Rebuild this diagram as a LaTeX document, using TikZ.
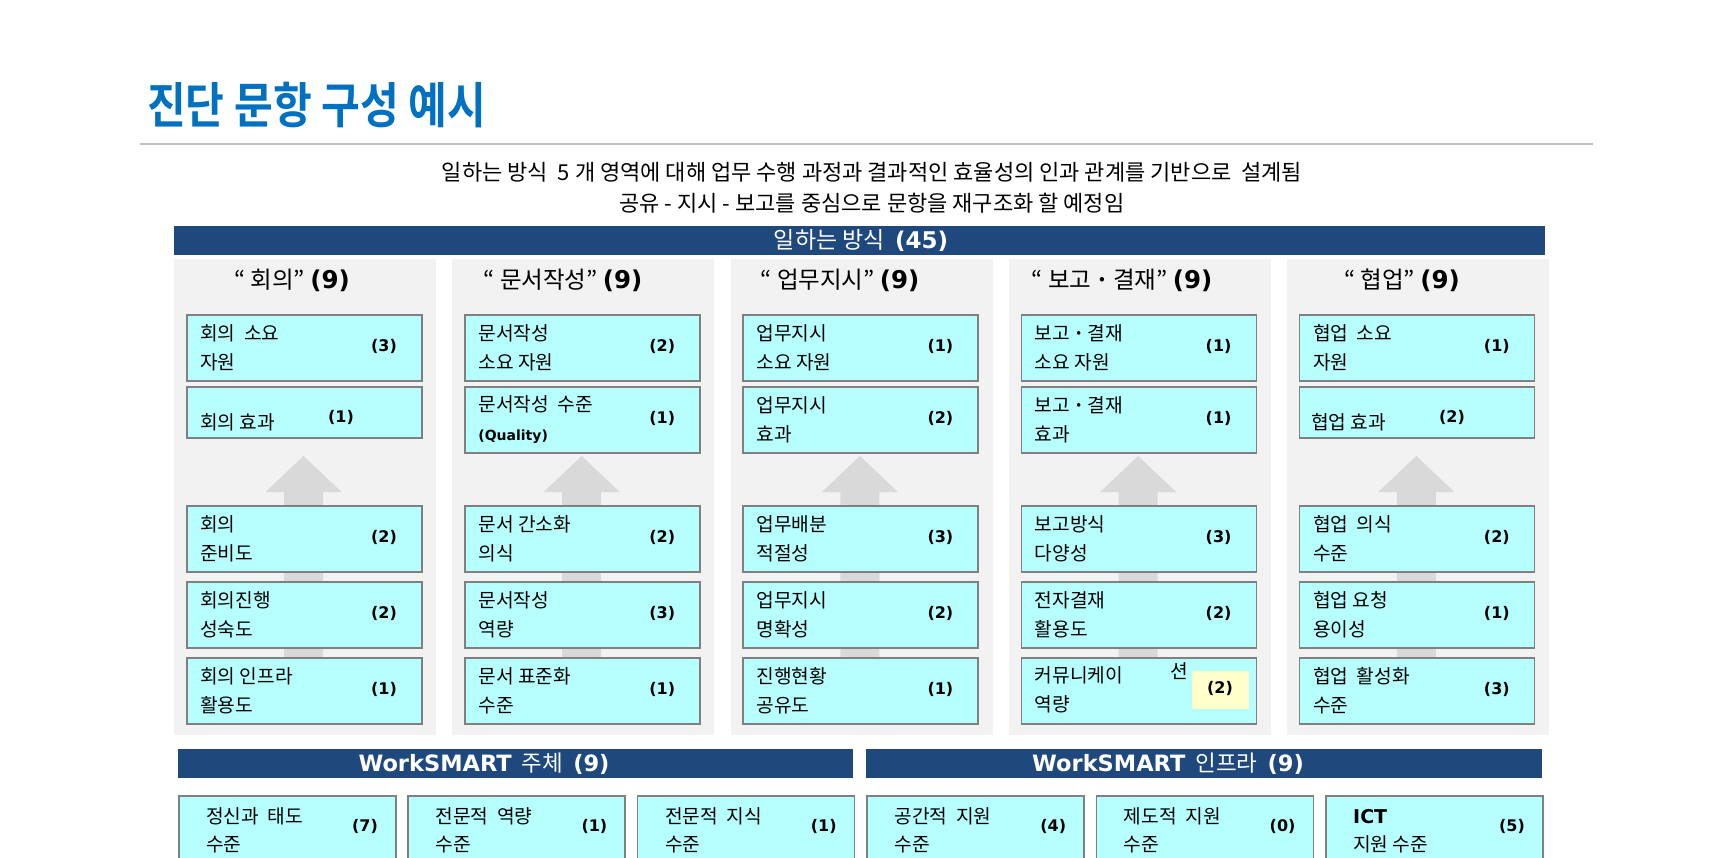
\documentclass[tikz,border=0pt]{standalone}
\usepackage{graphicx}
\usepackage{fontspec}
\setmainfont{Noto Sans CJK KR}[BoldFont={Noto Sans CJK KR Bold}]
\newfontfamily\numfont{DejaVu Sans}

\definecolor{titleblue}{RGB}{0,112,192}
\definecolor{bannerblue}{RGB}{31,73,125}
\definecolor{panelgray}{RGB}{242,242,242}
\definecolor{arrowgray}{RGB}{217,217,217}
\definecolor{cellcyan}{RGB}{183,255,255}
\definecolor{cellline}{RGB}{128,128,128}
\definecolor{noteyellow}{RGB}{255,255,204}

\newcommand{\nb}[1]{{\numfont\bfseries #1}}
\newcommand{\gdot}{\,{\bfseries ·}\,}

\tikzset{
  panel/.style={fill=panelgray, anchor=north west, inner sep=0, minimum width=262pt, minimum height=476pt},
  banner/.style={fill=bannerblue, anchor=north west, inner sep=0, minimum height=29pt},
  bannertext/.style={text=white, inner sep=0, font=\fontsize{23}{26}\selectfont},
  head/.style={inner sep=0, font=\fontsize{23.5}{27}\selectfont},
  cellbox/.style={draw=cellline, line width=1.6pt, fill=cellcyan, anchor=north west, inner sep=0, minimum width=235pt, minimum height=66pt},
  basebox/.style={cellbox, minimum width=217pt, minimum height=70pt},
  celltext/.style={anchor=west, align=left, inner sep=0, font=\fontsize{19.2}{29}\selectfont},
  cellnum/.style={inner sep=0, font=\numfont\bfseries\fontsize{16}{18}\selectfont},
}

% one item box: name, top-left, text, count
\newcommand{\cell}[4]{%
  \node[cellbox] (#1) at (#2) {};
  \node[celltext] (#1t) at ([xshift=14pt]#1.west) {#3};
  \node[cellnum] (#1n) at ([xshift=198pt,yshift=1pt]#1.west) {#4};
}
\newcommand{\basecell}[4]{%
  \node[basebox] (#1) at (#2) {};
  \node[celltext, font=\fontsize{19.2}{28}\selectfont] (#1t) at ([xshift=28pt]#1.west) {#3};
  \node[cellnum] (#1n) at ([xshift=187pt,yshift=4pt]#1.west) {#4};
}
% grey upward arrow behind a column
\newcommand{\liftarrow}[1]{%
  \fill[arrowgray] (#1,456) -- ++(38,36) -- ++(-18.5,0) -- ++(0,200) -- ++(-39,0) -- ++(0,-200) -- ++(-18.5,0) -- cycle;
}

\begin{document}
\begin{tikzpicture}[x=1pt,y=-1pt]
  \useasboundingbox (0,0) rectangle (1734,858);
  \clip (0,0) rectangle (1734,858);

  % title and intro
  \node[anchor=west, inner sep=0, text=titleblue, font=\bfseries\fontsize{49}{55}\selectfont] (title) at (147,105) {\scalebox{0.86}[1]{진단 문항 구성 예시}};
  \draw[black!25, line width=1.4pt] (140,144) -- (1593,144);
  \node[inner sep=0, font=\fontsize{22}{26}\selectfont] (intro1) at (872,172.5) {일하는 방식~~5 개 영역에 대해 업무 수행 과정과 결과적인 효율성의 인과 관계를 기반으로~~설계됨};
  \node[inner sep=0, font=\fontsize{22}{26}\selectfont] (intro2) at (872,203.5) {공유 - 지시 - 보고를 중심으로 문항을 재구조화 할 예정임};

  % top banner
  \node[banner, minimum width=1371pt] (way) at (174,226) {};
  \node[bannertext] (wayt) at (861,241) {일하는 방식~~\nb{(45)}};

  % columns
  \node[panel] (p1) at (174,259) {};
  \node[panel] (p2) at (452.2,259) {};
  \node[panel] (p3) at (730.4,259) {};
  \node[panel] (p4) at (1008.6,259) {};
  \node[panel] (p5) at (1286.8,259) {};

  \node[head] (h1) at (292,280) {“ 회의”~\nb{\fontsize{24.5}{27}\selectfont(9)}};
  \node[head] (h2) at (563,280) {“ 문서작성”~\nb{\fontsize{24.5}{27}\selectfont(9)}};
  \node[head] (h3) at (840,280) {“ 업무지시”~\nb{\fontsize{24.5}{27}\selectfont(9)}};
  \node[head] (h4) at (1122,280) {“ 보고\gdot 결재”~\nb{\fontsize{24.5}{27}\selectfont(9)}};
  \node[head] (h5) at (1402,280) {“ 협업”~\nb{\fontsize{24.5}{27}\selectfont(9)}};

  \liftarrow{303.5}
  \liftarrow{581.7}
  \liftarrow{859.9}
  \liftarrow{1138.1}
  \liftarrow{1416.3}

  % meeting
  \cell{m1}{186,314}{회의~~소요\\자원}{(3)}
  \node[cellbox, minimum height=51pt] (m2) at (186,386) {};
  \node[celltext] (m2t) at (200,422.5) {회의 효과};
  \node[cellnum] (m2n) at (341,417) {(1)};
  \cell{m3}{186,505}{회의\\준비도}{(2)}
  \cell{m4}{186,581}{회의진행\\성숙도}{(2)}
  \cell{m5}{186,657}{회의 인프라\\활용도}{(1)}

  % documents
  \cell{d1}{464.2,314}{문서작성\\소요 자원}{(2)}
  \cell{d2}{464.2,386}{문서작성~~수준\\{\numfont\bfseries\fontsize{14}{16}\selectfont (Quality)}}{(1)}
  \cell{d3}{464.2,505}{문서 간소화\\의식}{(2)}
  \cell{d4}{464.2,581}{문서작성\\역량}{(3)}
  \cell{d5}{464.2,657}{문서 표준화\\수준}{(1)}

  % instructions
  \cell{i1}{742.4,314}{업무지시\\소요 자원}{(1)}
  \cell{i2}{742.4,386}{업무지시\\효과}{(2)}
  \cell{i3}{742.4,505}{업무배분\\적절성}{(3)}
  \cell{i4}{742.4,581}{업무지시\\명확성}{(2)}
  \cell{i5}{742.4,657}{진행현황\\공유도}{(1)}

  % reporting
  \cell{r1}{1020.6,314}{보고\gdot 결재\\소요 자원}{(1)}
  \cell{r2}{1020.6,386}{보고\gdot 결재\\효과}{(1)}
  \cell{r3}{1020.6,505}{보고방식\\다양성}{(3)}
  \cell{r4}{1020.6,581}{전자결재\\활용도}{(2)}
  \node[cellbox] (r5) at (1020.6,657) {};
  \node[fill=noteyellow, anchor=north west, inner sep=0, minimum width=57pt, minimum height=38pt] (r5y) at (1192,671) {};
  \node[celltext] (r5t) at (1034.6,690) {커뮤니케이\\역량};
  \node[inner sep=0, font=\fontsize{19.2}{22}\selectfont] (r5s) at (1179,671) {션};
  \node[cellnum] (r5n) at (1220,688) {(2)};

  % collaboration
  \cell{c1}{1298.8,314}{협업~~소요\\자원}{(1)}
  \node[cellbox, minimum height=51pt] (c2) at (1298.8,386) {};
  \node[celltext] (c2t) at (1311,422.5) {협업 효과};
  \node[cellnum] (c2n) at (1452,417) {(2)};
  \cell{c3}{1298.8,505}{협업~~의식\\수준}{(2)}
  \cell{c4}{1298.8,581}{협업 요청\\용이성}{(1)}
  \cell{c5}{1298.8,657}{협업~~활성화\\수준}{(3)}

  % WorkSMART
  \node[banner, minimum width=675pt] (who) at (178,749) {};
  \node[bannertext, font=\fontsize{22.5}{26}\selectfont] (whot) at (484,764) {\nb{WorkSMART}~~주체~~\nb{(9)}};
  \node[banner, minimum width=676pt] (infra) at (866,749) {};
  \node[bannertext, font=\fontsize{22.5}{26}\selectfont] (infrat) at (1168,764) {\nb{WorkSMART}~~인프라~~\nb{(9)}};

  \basecell{s1}{178,795}{정신과~~태도\\수준}{(7)}
  \basecell{s2}{407.4,795}{전문적~~역량\\수준}{(1)}
  \basecell{s3}{636.8,795}{전문적~~지식\\수준}{(1)}
  \basecell{s4}{866.2,795}{공간적~~지원\\수준}{(4)}
  \basecell{s5}{1095.6,795}{제도적~~지원\\수준}{(0)}
  \basecell{s6}{1325,795}{{\numfont\bfseries\fontsize{19}{22}\selectfont ICT}\\지원 수준}{(5)}
\end{tikzpicture}
\end{document}
